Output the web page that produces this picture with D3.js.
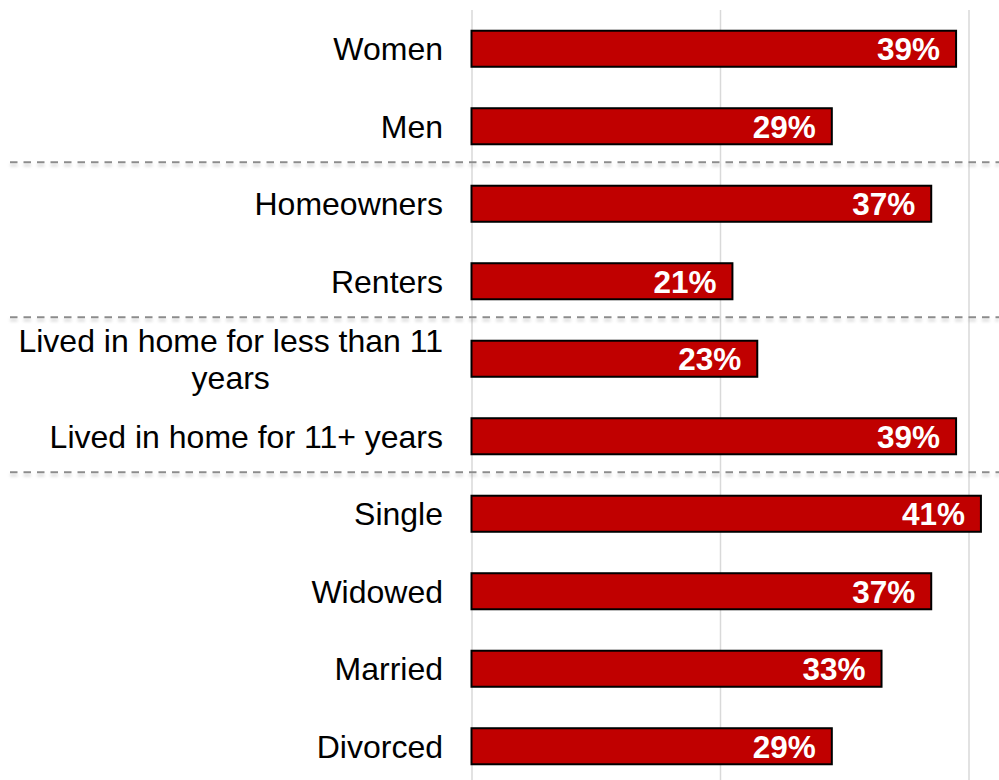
<!DOCTYPE html>
<html>
<head>
<meta charset="utf-8">
<script src="https://cdn.jsdelivr.net/npm/d3@7"></script>
<style>
  body { margin: 0; background: #fff; }
  svg { display: block; font-family: "Liberation Sans", Arial, Helvetica, sans-serif; }
  .cat-label { font-size: 32px; fill: #000; }
  .val-label { font-size: 31.5px; font-weight: bold; fill: #fff; }
</style>
</head>
<body>
<div id="chart"></div>
<script>
// Chart data
const categories = [
  'Women', 'Men', 'Homeowners', 'Renters',
  'Lived in home for less than 11 years', 'Lived in home for 11+ years',
  'Single', 'Widowed', 'Married', 'Divorced'
];
const values = [39, 29, 37, 21, 23, 39, 41, 37, 33, 29];
const labelLines = {
  'Lived in home for less than 11 years': ['Lived in home for less than 11', 'years']
};
const gridTicks = [0, 20, 40];
// groups end after these categories (dashed divider)
const dividersAfter = ['Men', 'Renters', 'Lived in home for 11+ years'];

const data = categories.map((c, i) => ({ category: c, value: values[i] }));

const width = 999, height = 780;

const svg = d3.select('#chart').append('svg')
    .attr('width', width)
    .attr('height', height);

// soft shadow under dashed dividers (user space, lines have no height)
const defs = svg.append('defs');
const f = defs.append('filter').attr('id', 'shadow')
    .attr('filterUnits', 'userSpaceOnUse')
    .attr('x', 0).attr('y', 0).attr('width', width).attr('height', height);
f.append('feDropShadow')
    .attr('dx', 0).attr('dy', 3)
    .attr('stdDeviation', 1.6)
    .attr('flood-color', '#000')
    .attr('flood-opacity', 0.18);

const xScale = d3.scaleLinear()
    .domain([0, 40])
    .range([471.5, 968.5]);

const yScale = d3.scaleBand()
    .domain(categories)
    .range([10, 785])
    .paddingInner(0.535)
    .paddingOuter(0.2675);

// vertical gridlines
svg.append('g')
    .attr('class', 'grid')
    .attr('transform', 'translate(0,10)')
    .call(d3.axisTop(xScale).tickValues(gridTicks).tickSize(-(height - 10)).tickFormat(''))
    .call(g => g.select('.domain').remove())
    .call(g => g.selectAll('.tick line').attr('stroke', '#d9d9d9').attr('stroke-width', 1.5));

// dashed group dividers
svg.append('g')
  .selectAll('line')
  .data(dividersAfter)
  .join('line')
    .attr('x1', 10)
    .attr('x2', width)
    .attr('y1', d => yScale(d) + yScale.bandwidth() + 18)
    .attr('y2', d => yScale(d) + yScale.bandwidth() + 18)
    .attr('stroke', '#8c8c8c')
    .attr('stroke-width', 2)
    .attr('stroke-dasharray', '7.5,6')
    .attr('filter', 'url(#shadow)');

// bars
svg.append('g')
  .selectAll('rect')
  .data(data)
  .join('rect')
    .attr('x', xScale(0))
    .attr('y', d => yScale(d.category))
    .attr('width', d => xScale(d.value) - xScale(0))
    .attr('height', yScale.bandwidth())
    .attr('fill', '#c00000')
    .attr('stroke', '#000')
    .attr('stroke-width', 2);

// value labels inside bar ends
svg.append('g')
  .selectAll('text')
  .data(data)
  .join('text')
    .attr('class', 'val-label')
    .attr('x', d => xScale(d.value) - 16)
    .attr('y', d => yScale(d.category) + yScale.bandwidth() / 2)
    .attr('dy', '0.36em')
    .attr('text-anchor', 'end')
    .text(d => d.value + '%');

// category labels
const labelRight = 443;
const lineHeight = 37;
const labels = svg.append('g')
  .selectAll('text')
  .data(data)
  .join('text')
    .attr('class', 'cat-label')
    .attr('y', d => yScale(d.category) + yScale.bandwidth() / 2);

labels.each(function(d) {
  const t = d3.select(this);
  const lines = labelLines[d.category];
  if (!lines) {
    t.attr('x', labelRight).attr('dy', '0.36em').attr('text-anchor', 'end').text(d.category);
    return;
  }
  // multi-line labels: lines centred on each other, block right-aligned
  t.attr('text-anchor', 'middle');
  const cy = +t.attr('y');
  const spans = lines.map((ln, i) => t.append('tspan')
      .attr('y', cy + (i - (lines.length - 1) / 2) * lineHeight)
      .attr('dy', '0.36em')
      .text(ln));
  const maxW = d3.max(spans, s => s.node().getComputedTextLength());
  spans.forEach(s => s.attr('x', labelRight - maxW / 2));
});
</script>
</body>
</html>
